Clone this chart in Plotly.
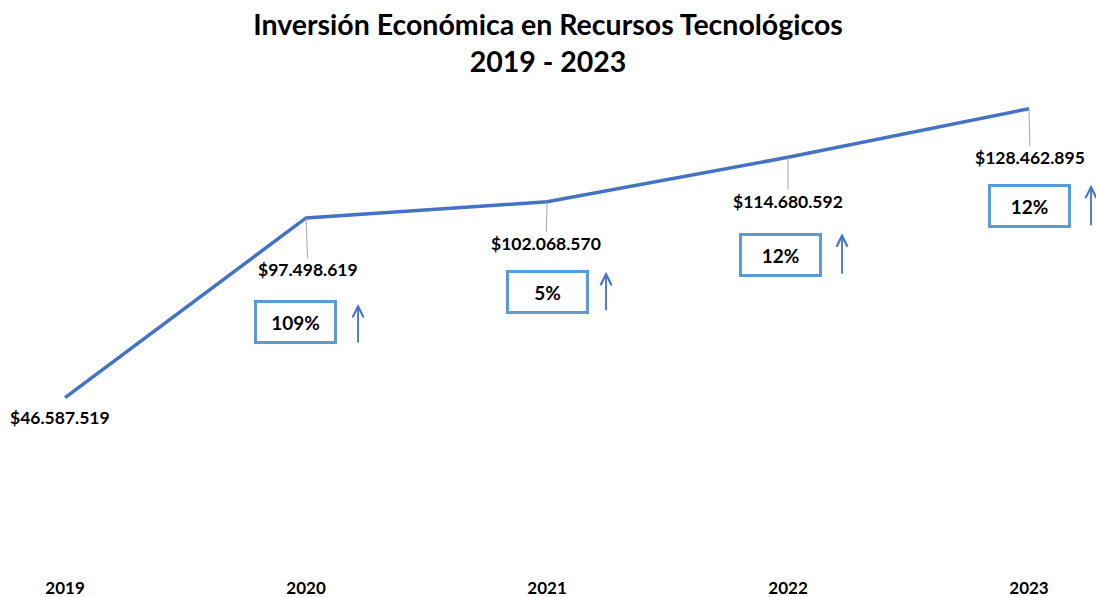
import plotly.graph_objects as go

# ---- data ----
years = ["2019", "2020", "2021", "2022", "2023"]
investment = [46587519, 97498619, 102068570, 114680592, 128462895]
value_labels = ["$46.587.519", "$97.498.619", "$102.068.570", "$114.680.592", "$128.462.895"]
growth_years = ["2020", "2021", "2022", "2023"]
growth_labels = ["109%", "5%", "12%", "12%"]

# ---- placement (pixels relative to each point) ----
label_dx = [-5, 2, -1, 0, 1]
label_dy = [20, 52, 42, 44, 49]
box_dx = [-11, 0, -8, 0]
box_dy = [104, 90, 98, 97]
arrow_dx = [52, 59, 54, 62]
arrow_head_dy = [86, 70, 76, 76]
arrow_len = [40, 40, 42, 42]

FONT = "Lato"
LINE_BLUE = "#4472C4"
BOX_BLUE = "#5B9BD5"

fig = go.Figure()
fig.add_trace(go.Scatter(
    x=years, y=investment, mode="lines",
    line=dict(color=LINE_BLUE, width=3.5),
    hoverinfo="x+y", showlegend=False,
))

annotations = []
# value labels with leader lines (category index used as x position)
for i, (v, lab) in enumerate(zip(investment, value_labels)):
    if i == 0:
        annotations.append(dict(
            x=i, y=v, xref="x", yref="y", text=f"<b>{lab}</b>", showarrow=False,
            xshift=label_dx[i], yshift=-label_dy[i],
            font=dict(family=FONT, size=17.5, color="#000000"),
        ))
    else:
        annotations.append(dict(
            x=i, y=v, xref="x", yref="y", text=f"<b>{lab}</b>", showarrow=True,
            ax=label_dx[i], ay=label_dy[i], axref="pixel", ayref="pixel",
            arrowhead=0, arrowwidth=1, arrowcolor="#A6A6A6", standoff=0,
            font=dict(family=FONT, size=17.5, color="#000000"),
        ))

# growth boxes and arrows
for j, (yr, g) in enumerate(zip(growth_years, growth_labels)):
    idx = years.index(yr)
    v = investment[idx]
    annotations.append(dict(
        x=idx, y=v, xref="x", yref="y", text=f"<b>{g}</b>", showarrow=False,
        xshift=box_dx[j], yshift=-box_dy[j],
        width=77, height=38, borderpad=0, borderwidth=3, bordercolor=BOX_BLUE,
        bgcolor="white", align="center", valign="middle",
        font=dict(family=FONT, size=19, color="#000000"),
    ))
    annotations.append(dict(
        x=idx, y=v, xref="x", yref="y", text="", showarrow=True,
        xshift=arrow_dx[j], yshift=-arrow_head_dy[j],
        ax=0, ay=arrow_len[j], axref="pixel", ayref="pixel",
        arrowhead=5, arrowsize=1.2, arrowwidth=1.8, arrowcolor=LINE_BLUE, standoff=0,
    ))

fig.update_layout(
    width=1096, height=597,
    paper_bgcolor="white", plot_bgcolor="white",
    margin=dict(l=0, r=0, t=68, b=35),
    title=dict(
        text="<b>Inversión Económica en Recursos Tecnológicos<br>2019 - 2023</b>",
        x=0.5, xanchor="center", y=0.942, yanchor="top", yref="container",
        font=dict(family=FONT, size=28.5, color="#000000"),
    ),
    xaxis=dict(
        type="category", range=[-0.27, 4.278], showgrid=False, showline=False,
        zeroline=False, ticks="outside", ticklen=11, tickcolor="rgba(0,0,0,0)",
        tickfont=dict(family=FONT, size=17, color="#000000", weight="bold"),
        automargin=False,
    ),
    yaxis=dict(range=[0, 140000000], visible=False, automargin=False),
    annotations=annotations,
)

fig.write_html("out.html", config={"displayModeBar": False},
               post_script="document.body.style.margin='0';")
